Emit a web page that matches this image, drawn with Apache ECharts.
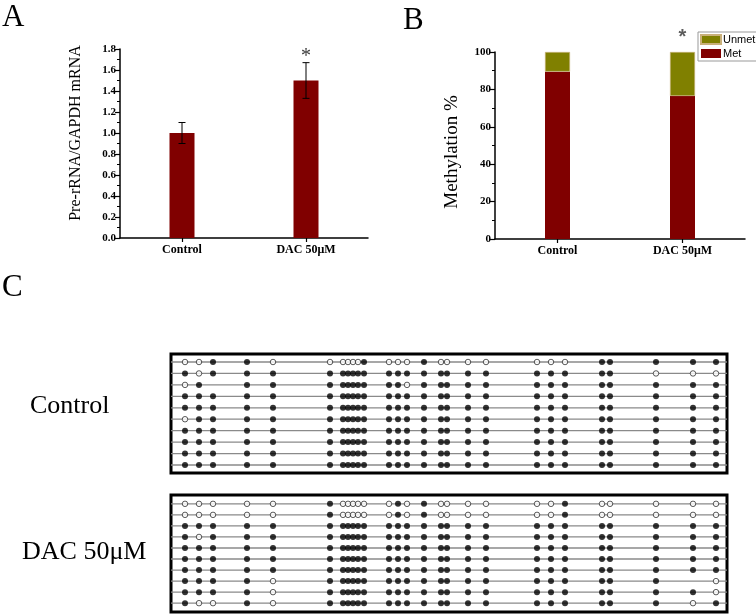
<!DOCTYPE html>
<html>
<head>
<meta charset="utf-8">
<script src="https://cdn.jsdelivr.net/npm/echarts@6/dist/echarts.min.js"></script>
<style>
html,body{margin:0;padding:0;background:#fff;}
#chart{width:756px;height:616px;}
</style>
</head>
<body>
<div id="chart"></div>
<script>
// ---------- data ----------
const categories = ['Control', 'DAC 50μM'];
const preRNA = [1.0, 1.5];
const preRNAErr = [0.1, 0.17];
const metPct = [89.5, 76.5];
const unmetPct = [10.5, 23.5];
const starA = [[1, 1.73]];
const starB = [[1, 108]];
// CpG site positions (relative units)
const cpgPositions = [0, 14, 28, 62, 88, 145, 158, 163, 168, 173, 179, 204, 213, 222, 239, 256, 262, 283, 301, 352, 366, 380, 417, 425, 471, 508, 531];
// x = methylated, o = unmethylated, - = not determined
const controlClones = [
  'ooxxo' + 'ooooox' + 'ooo' + 'x' + 'oooo' + 'ooo' + 'xxxxx',
  'xoxxx' + 'xxxxxx' + 'xxx' + 'x' + 'xxxx' + 'xxx' + 'xxooo',
  'ox-xx' + 'xxxxxx' + 'xxo' + 'x' + 'xxxx' + 'xxx' + 'xxxxx',
  'xxxxx' + 'xxxxxx' + 'xxx' + 'x' + 'xxxx' + 'xxx' + 'xxxxx',
  'xxxxx' + 'xxxxxx' + 'xxx' + 'x' + 'xxxx' + 'xxx' + 'xxxxx',
  'oxxxx' + 'xxxxxx' + 'xxx' + 'x' + 'xxxx' + 'xxx' + 'xxxxx',
  'xxxxx' + 'xxxxxx' + 'xxx' + 'x' + 'xxxx' + 'xxx' + 'xxxxx',
  'xxxxx' + 'xxxxxx' + 'xxx' + 'x' + 'xxxx' + 'xxx' + 'xxxxx',
  'xxxxx' + 'xxxxxx' + 'xxx' + 'x' + 'xxxx' + 'xxx' + 'xxxxx',
  'xxxxx' + 'xxxxxx' + 'xxx' + 'x' + 'xxxx' + 'xxx' + 'xxxxx'
];
const dacClones = [
  'ooooo' + 'xooooo' + 'oxo' + 'x' + 'oooo' + 'oox' + 'ooooo',
  'ooooo' + 'xooooo' + 'oxo' + 'x' + 'oooo' + 'oox' + 'ooooo',
  'xxxxx' + 'xxxxxx' + 'xxx' + 'x' + 'xxxx' + 'xxx' + 'xxxxx',
  'xoxxx' + 'xxxxxx' + 'xxx' + 'x' + 'xxxx' + 'xxx' + 'xxxxx',
  'xxxxx' + 'xxxxxx' + 'xxx' + 'x' + 'xxxx' + 'xxx' + 'xxxxx',
  'xxxxx' + 'xxxxxx' + 'xxx' + 'x' + 'xxxx' + 'xxx' + 'xxxxx',
  'xxxxx' + 'xxxxxx' + 'xxx' + 'x' + 'xxxx' + 'xxx' + 'xxxxx',
  'xxxxo' + 'xxxxxx' + 'xxx' + 'x' + 'xxxx' + 'xxx' + 'xxx-o',
  'xxxxo' + 'xxxxxx' + 'xxx' + 'x' + 'xxxx' + 'xxx' + 'xxxxo',
  'xooxo' + 'xxxxxx' + 'xxx' + 'x' + 'xxxx' + 'xxx' + 'xxxox'
];

// ---------- helpers ----------
const SERIF = 'Liberation Serif';
const SANS = 'Liberation Sans';
const MAROON = '#800000';
const OLIVE = '#808000';
const xMinC = -14, xMaxC = 542;

function cloneSeries(clones, gridIdx) {
  const s = [];
  clones.forEach((row, r) => {
    s.push({
      type: 'line', xAxisIndex: gridIdx, yAxisIndex: gridIdx, silent: true,
      symbol: 'none', z: 1,
      lineStyle: { color: '#8a8a8a', width: 1.3 },
      data: [[xMinC, r + 1], [xMaxC, r + 1]]
    });
  });
  const filled = [], open = [];
  clones.forEach((row, r) => {
    for (let i = 0; i < row.length; i++) {
      if (row[i] === 'x') filled.push([cpgPositions[i], r + 1]);
      else if (row[i] === 'o') open.push([cpgPositions[i], r + 1]);
    }
  });
  s.push({
    type: 'scatter', xAxisIndex: gridIdx, yAxisIndex: gridIdx, z: 3, silent: true,
    symbol: 'circle', symbolSize: 6, itemStyle: { color: '#000' }, data: filled
  });
  s.push({
    type: 'scatter', xAxisIndex: gridIdx, yAxisIndex: gridIdx, z: 3, silent: true,
    symbol: 'circle', symbolSize: 5.5,
    itemStyle: { color: '#fff', borderColor: '#000', borderWidth: 0.8 }, data: open
  });
  return s;
}

const axisLineStyle = { show: true, lineStyle: { color: '#000', width: 1.5 } };

const chart = echarts.init(document.getElementById('chart'), null, { renderer: 'canvas' });
const option = {
  animation: false,
  backgroundColor: '#fff',
  textStyle: { fontFamily: SERIF },
  grid: [
    { left: 120, top: 49, width: 248, height: 189 },
    { left: 495, top: 52, width: 250, height: 187 },
    { left: 171, top: 354, width: 556, height: 119, show: true, borderColor: '#000', borderWidth: 3, backgroundColor: 'transparent' },
    { left: 171, top: 495, width: 556, height: 117, show: true, borderColor: '#000', borderWidth: 3, backgroundColor: 'transparent' }
  ],
  legend: {
    left: 698, top: 32, orient: 'vertical',
    data: ['Unmet', 'Met'],
    icon: 'rect', itemWidth: 20, itemHeight: 9, itemGap: 3,
    padding: [2, 3, 2, 2],
    borderColor: '#999', borderWidth: 1,
    textStyle: { fontFamily: SANS, fontSize: 11, color: '#000', padding: [0, 0, 0, -3] }
  },
  xAxis: [
    {
      gridIndex: 0, type: 'category', data: categories,
      axisLine: axisLineStyle,
      axisTick: { show: true, alignWithLabel: true, length: 4, lineStyle: { color: '#000', width: 1.2 } },
      axisLabel: { color: '#000', fontWeight: 'bold', fontSize: 12, fontFamily: SERIF, margin: 6 }
    },
    {
      gridIndex: 1, type: 'category', data: categories,
      axisLine: axisLineStyle,
      axisTick: { show: true, alignWithLabel: true, length: 4, lineStyle: { color: '#000', width: 1.2 } },
      axisLabel: { color: '#000', fontWeight: 'bold', fontSize: 12, fontFamily: SERIF, margin: 6 }
    },
    { gridIndex: 2, type: 'value', min: xMinC, max: xMaxC, show: false },
    { gridIndex: 3, type: 'value', min: xMinC, max: xMaxC, show: false }
  ],
  yAxis: [
    {
      gridIndex: 0, type: 'value', min: 0, max: 1.8, interval: 0.2,
      axisLine: axisLineStyle,
      axisTick: { show: true, length: 5, lineStyle: { color: '#000', width: 1.2 } },
      minorTick: { show: true, splitNumber: 2, length: 3, lineStyle: { color: '#000', width: 1 } },
      splitLine: { show: false },
      axisLabel: { color: '#000', fontWeight: 'bold', fontSize: 11, fontFamily: SERIF, margin: 4,
        formatter: v => v.toFixed(1) }
    },
    {
      gridIndex: 1, type: 'value', min: 0, max: 100, interval: 20,
      axisLine: axisLineStyle,
      axisTick: { show: true, length: 5, lineStyle: { color: '#000', width: 1.2 } },
      minorTick: { show: true, splitNumber: 2, length: 3, lineStyle: { color: '#000', width: 1 } },
      splitLine: { show: false },
      axisLabel: { color: '#000', fontWeight: 'bold', fontSize: 11, fontFamily: SERIF, margin: 4 }
    },
    { gridIndex: 2, type: 'value', min: 0.3, max: 10.7, inverse: true, show: false },
    { gridIndex: 3, type: 'value', min: 0.2, max: 10.8, inverse: true, show: false }
  ],
  graphic: [
    { type: 'text', left: 2, top: 2, style: { text: 'A', font: '31px "Liberation Serif"', fill: '#000' } },
    { type: 'text', left: 403, top: 5, style: { text: 'B', font: '31px "Liberation Serif"', fill: '#000' } },
    { type: 'text', left: 2, top: 272, style: { text: 'C', font: '31px "Liberation Serif"', fill: '#000' } },
    { type: 'text', x: 76, y: 133, rotation: Math.PI / 2,
      style: { text: 'Pre-rRNA/GAPDH mRNA', font: '16px "Liberation Serif"', fill: '#000', align: 'center', verticalAlign: 'middle' } },
    { type: 'text', x: 452, y: 152, rotation: Math.PI / 2,
      style: { text: 'Methylation %', font: '19px "Liberation Serif"', fill: '#000', align: 'center', verticalAlign: 'middle' } },
    { type: 'text', x: 30, y: 406,
      style: { text: 'Control', font: '26px "Liberation Serif"', fill: '#000', align: 'left', verticalAlign: 'middle' } },
    { type: 'text', x: 22, y: 552,
      style: { text: 'DAC 50μM', font: '26px "Liberation Serif"', fill: '#000', align: 'left', verticalAlign: 'middle' } }
  ],
  series: [
    {
      name: 'Pre-rRNA', type: 'bar', xAxisIndex: 0, yAxisIndex: 0,
      barWidth: 25, itemStyle: { color: MAROON }, data: preRNA
    },
    {
      type: 'custom', xAxisIndex: 0, yAxisIndex: 0, z: 5,
      data: categories.map((c, i) => [i, preRNA[i] - preRNAErr[i], preRNA[i] + preRNAErr[i]]),
      renderItem: function (params, api) {
        const lo = api.coord([api.value(0), api.value(1)]);
        const hi = api.coord([api.value(0), api.value(2)]);
        const w = 3.5;
        const st = { stroke: '#000', lineWidth: 1 };
        return {
          type: 'group', children: [
            { type: 'line', shape: { x1: lo[0], y1: lo[1], x2: hi[0], y2: hi[1] }, style: st },
            { type: 'line', shape: { x1: lo[0] - w, y1: lo[1], x2: lo[0] + w, y2: lo[1] }, style: st },
            { type: 'line', shape: { x1: hi[0] - w, y1: hi[1], x2: hi[0] + w, y2: hi[1] }, style: st }
          ]
        };
      }
    },
    {
      type: 'scatter', xAxisIndex: 0, yAxisIndex: 0, symbolSize: 0, clip: false, silent: true,
      data: starA,
      label: { show: true, position: 'inside', formatter: '*', fontSize: 20, fontFamily: SERIF, color: '#000' }
    },
    {
      name: 'Met', type: 'bar', stack: 'm', xAxisIndex: 1, yAxisIndex: 1,
      barWidth: 25, itemStyle: { color: MAROON }, data: metPct
    },
    {
      name: 'Unmet', type: 'bar', stack: 'm', xAxisIndex: 1, yAxisIndex: 1,
      barWidth: 25, itemStyle: { color: OLIVE, borderColor: '#c9b07a', borderWidth: 0.6 }, data: unmetPct
    },
    {
      type: 'scatter', xAxisIndex: 1, yAxisIndex: 1, symbolSize: 0, clip: false, silent: true,
      data: starB,
      label: { show: true, position: 'inside', formatter: '*', fontSize: 20, fontFamily: SANS, fontWeight: 'bold', color: '#333' }
    }
  ].concat(cloneSeries(controlClones, 2)).concat(cloneSeries(dacClones, 3))
};
chart.setOption(option);
</script>
</body>
</html>
